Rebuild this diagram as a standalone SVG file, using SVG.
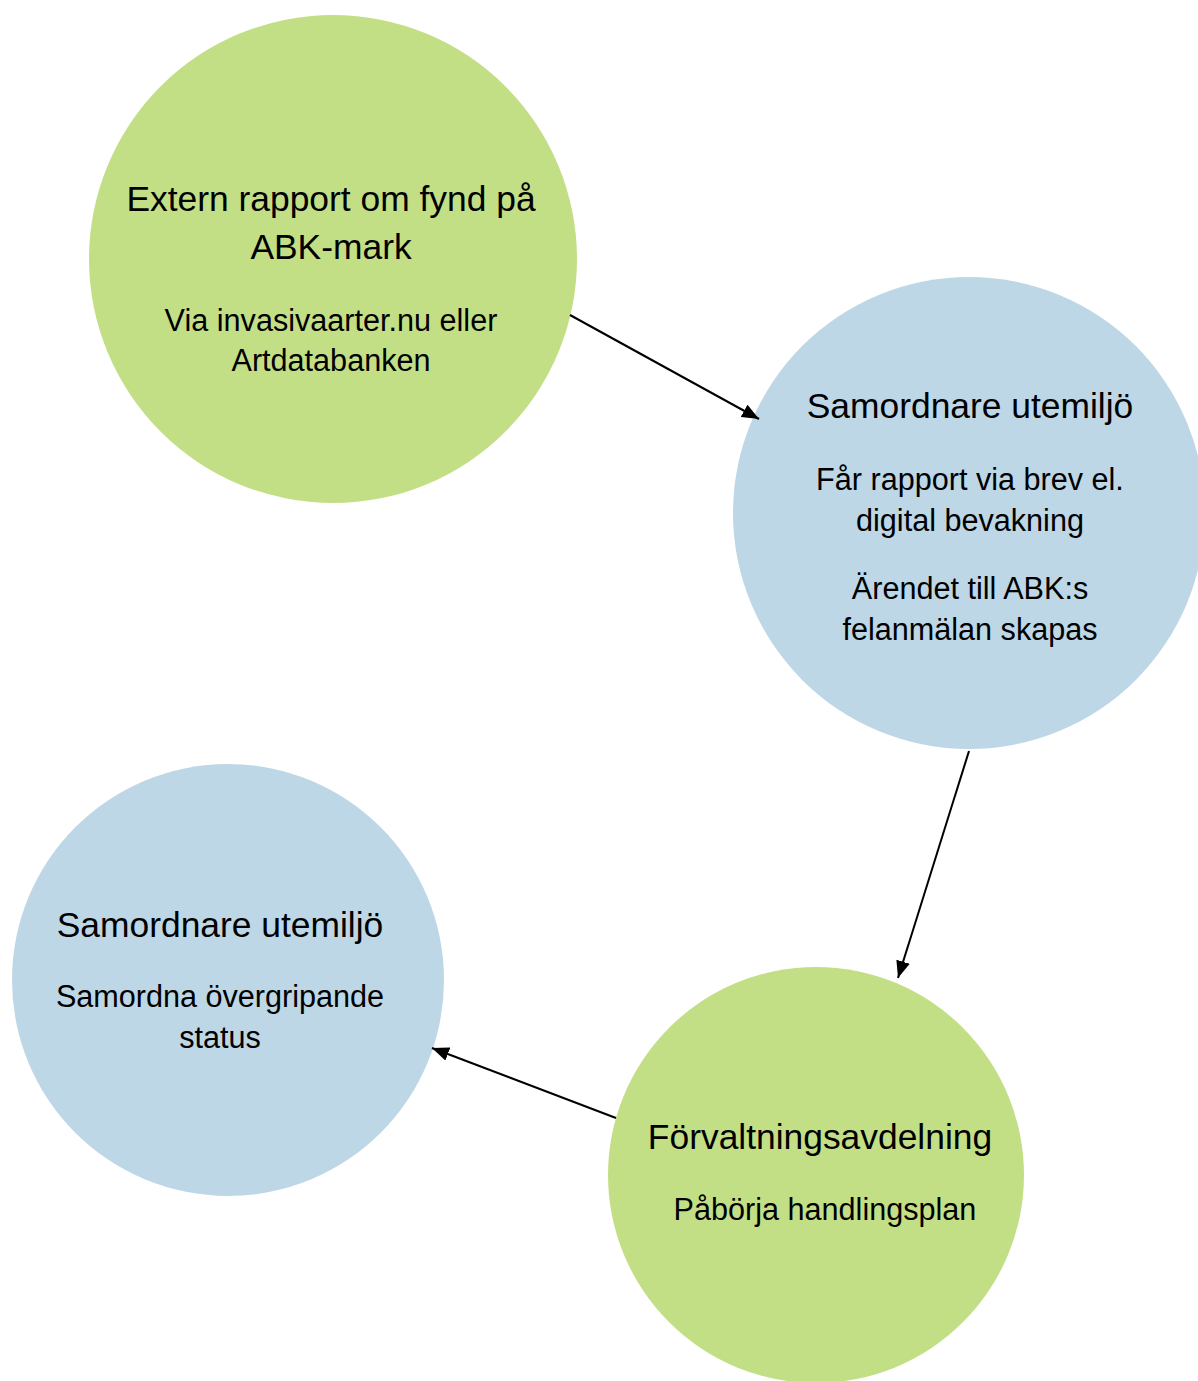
<svg xmlns="http://www.w3.org/2000/svg" width="1198" height="1381" viewBox="0 0 1198 1381">
<style>
.green{fill:#C3DF86}
.blue{fill:#BDD7E7}
text{font-family:"Liberation Sans",Arial,sans-serif;fill:#000;text-anchor:middle}
.t{font-size:35.4px}
.b{font-size:30.6px}
.conn{stroke:#000;stroke-width:2;fill:none;marker-end:url(#arr)}
</style>
<defs>
<marker id="arr" markerUnits="userSpaceOnUse" markerWidth="18" markerHeight="14" refX="17" refY="7" orient="auto">
<path d="M0,0 L17,7 L0,14 Z" fill="#000"/>
</marker>
</defs>
<rect width="1198" height="1381" fill="#fff"/>
<g id="n1">
<circle class="green" cx="333" cy="259" r="244"/>
<text class="t" x="331" y="211">Extern rapport om fynd på</text>
<text class="t" x="331" y="259">ABK-mark</text>
<text class="b" x="331" y="331">Via invasivaarter.nu eller</text>
<text class="b" x="331" y="371">Artdatabanken</text>
</g>
<g id="n2">
<circle class="blue" cx="969" cy="513" r="236"/>
<text class="t" x="970" y="418">Samordnare utemiljö</text>
<text class="b" x="970" y="490">Får rapport via brev el.</text>
<text class="b" x="970" y="531">digital bevakning</text>
<text class="b" x="970" y="599">Ärendet till ABK:s</text>
<text class="b" x="970" y="640">felanmälan skapas</text>
</g>
<g id="n3">
<circle class="blue" cx="228" cy="980" r="216"/>
<text class="t" x="220" y="937">Samordnare utemiljö</text>
<text class="b" x="220" y="1007">Samordna övergripande</text>
<text class="b" x="220" y="1048">status</text>
</g>
<g id="n4">
<circle class="green" cx="816" cy="1175" r="208"/>
<text class="t" x="820" y="1149">Förvaltningsavdelning</text>
<text class="b" x="825" y="1220">Påbörja handlingsplan</text>
</g>
<g id="connectors">
<line class="conn" x1="570" y1="315" x2="759" y2="419"/>
<line class="conn" x1="969" y1="751" x2="898" y2="978"/>
<line class="conn" x1="616" y1="1118" x2="432" y2="1048"/>
</g>
</svg>
